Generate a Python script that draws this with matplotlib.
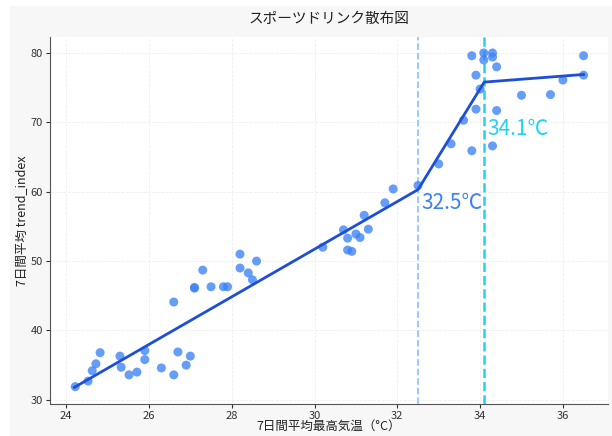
import matplotlib
matplotlib.use('Agg')
import matplotlib.pyplot as plt
from matplotlib.patches import Rectangle

plt.rcParams['font.family'] = ['Noto Sans CJK JP', 'DejaVu Sans']

# scatter data: 7-day mean max temperature vs trend index
temp = [24.22, 24.53, 24.63, 24.72, 24.82, 25.3, 25.33, 25.52, 25.71, 25.9,
        25.9, 26.3, 26.6, 26.6, 26.7, 26.9, 27.0, 27.1, 27.1, 27.3,
        27.5, 27.8, 27.9, 28.2, 28.2, 28.4, 28.5, 28.6,
        30.2, 30.7, 30.8, 30.8, 30.9, 31.0, 31.1, 31.2, 31.3, 31.7, 31.9, 32.5,
        33.0, 33.3, 33.6, 33.8, 33.8, 33.9, 33.9, 34.0, 34.09, 34.09,
        34.3, 34.3, 34.3, 34.4, 34.4, 35.0, 35.7, 36.0, 36.5, 36.5]
trend = [31.9, 32.7, 34.2, 35.2, 36.8, 36.3, 34.7, 33.6, 34.0, 37.1,
         35.8, 34.6, 33.6, 44.1, 36.9, 35.0, 36.3, 46.1, 46.2, 48.7,
         46.3, 46.3, 46.3, 51.0, 49.0, 48.3, 47.3, 50.0,
         52.0, 54.5, 53.3, 51.6, 51.4, 53.9, 53.4, 56.6, 54.6, 58.4, 60.4, 60.9,
         64.0, 66.9, 70.3, 65.9, 79.6, 76.8, 71.9, 74.8, 80.0, 79.0,
         80.0, 79.4, 66.6, 78.0, 71.7, 73.9, 74.0, 76.1, 76.8, 79.6]

# piecewise fit
fit_x = [24.2, 32.5, 34.1, 36.5]
fit_y = [31.8, 60.3, 75.8, 76.9]

breaks = [32.5, 34.1]
break_labels = ['32.5℃', '34.1℃']
label_y = [58.4, 69.0]
break_colors = ['#93c5fd', '#22d3ee']
label_colors = ['#3b82f6', '#22d3ee']

fig = plt.figure(figsize=(6.12, 4.36), dpi=100, facecolor='white')
fig.patches.append(Rectangle((10 / 612, 0), 1, 1 - 6 / 436, transform=fig.transFigure,
                             facecolor='#f7f7f7', edgecolor='none', zorder=-10))
ax = fig.add_axes([50 / 612, 1 - 404 / 436, 558 / 612, 367 / 436])
ax.set_facecolor('white')

ax.scatter(temp, trend, s=42, color='#3b82f6', alpha=0.78, edgecolors='none', zorder=3)
ax.plot(fit_x, fit_y, color='#1d4ed8', linewidth=2, zorder=4)

ax.axvline(breaks[0], color=break_colors[0], linestyle='--', linewidth=1.3, zorder=2)
ax.axvline(breaks[1], color=break_colors[1], linestyle='--', linewidth=1.8, zorder=2)
for b, lab, ly, c in zip(breaks, break_labels, label_y, label_colors):
    ax.text(b + 0.07, ly, lab, color=c, fontsize=15, ha='left', va='center', zorder=5)

ax.set_xlim(23.61, 37.09)
ax.set_ylim(29.4, 82.3)
ax.set_xticks([24, 26, 28, 30, 32, 34, 36])
ax.set_yticks([30, 40, 50, 60, 70, 80])
ax.tick_params(labelsize=8, colors='#333333', length=3, pad=2)
ax.grid(True, color='#eeeeee', linestyle='--', linewidth=0.6)
ax.set_axisbelow(True)

ax.spines['top'].set_visible(False)
ax.spines['right'].set_visible(False)
ax.spines['left'].set_color('#555555')
ax.spines['bottom'].set_color('#555555')

ax.set_title('スポーツドリンク散布図', fontsize=10.5, color='#222222', pad=10)
ax.set_xlabel('7日間平均最高気温（°C）', fontsize=9, color='#222222', labelpad=-1)
ax.set_ylabel('7日間平均 trend_index', fontsize=9, color='#222222', labelpad=1)

plt.savefig('out.png', facecolor=fig.get_facecolor())
